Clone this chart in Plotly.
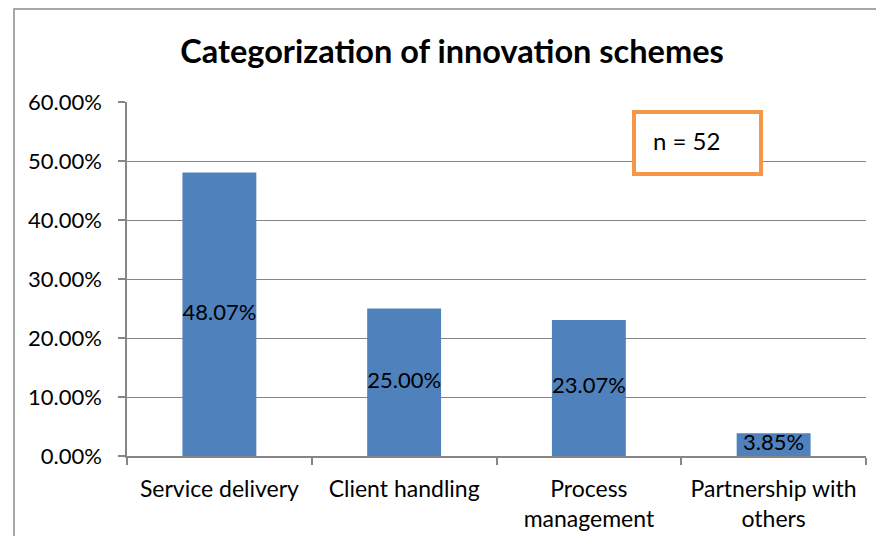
import plotly.graph_objects as go

categories = ["Service delivery", "Client handling", "Process<br>management", "Partnership with<br>others"]
values = [0.4807, 0.2500, 0.2307, 0.0385]
labels = ["48.07%", "25.00%", "23.07%", "3.85%"]
y_ticks = [0, 0.1, 0.2, 0.3, 0.4, 0.5, 0.6]

FONT = "Lato"
GRAY = "#868686"

# page offset (body margin) is 8px; figure coordinates = page coordinates - 8
W, H = 868, 528
PL, PR, PT, PB = 119, 858, 94, 448  # plot area in figure px
PW, PH = PR - PL, PB - PT


def px(x):
    return (x - 8 - PL) / PW


def py(y):
    return (PB - (y - 8)) / PH


fig = go.Figure()
fig.add_trace(go.Bar(
    x=categories, y=values, marker=dict(color="#4F81BD", line=dict(width=0)),
    width=0.4, hoverinfo="skip",
))
fig.add_trace(go.Scatter(
    x=categories, y=[v / 2 for v in values], mode="text", text=labels,
    textfont=dict(family=FONT, size=22, color="#000000"), hoverinfo="skip",
    textposition="middle center", cliponaxis=False,
))

fig.update_layout(
    width=W, height=H,
    margin=dict(l=PL, r=W - PR, t=PT, b=H - PB, pad=0, autoexpand=False),
    paper_bgcolor="white", plot_bgcolor="white",
    showlegend=False,
    font=dict(family=FONT, size=22, color="#000000"),
    title=dict(text="<b>Categorization of innovation schemes</b>", x=px(452), xanchor="center",
               y=1 - 44 / H, yanchor="middle", xref="paper",
               font=dict(family=FONT, size=32.5, color="#000000")),
    xaxis=dict(showline=True, linecolor=GRAY, linewidth=1.5, ticks="outside", ticklen=7,
               tickcolor=GRAY, tickwidth=1.5, tickson="boundaries", showgrid=False,
               ticklabelstandoff=12, automargin=False,
               tickfont=dict(family=FONT, size=23), fixedrange=True),
    yaxis=dict(range=[0, 0.6], tickvals=y_ticks, tickformat=".2%", showline=True,
               linecolor=GRAY, linewidth=1.5, ticks="outside", ticklen=7, tickcolor=GRAY,
               tickwidth=1.5, showgrid=True, gridcolor=GRAY, gridwidth=1.2,
               ticklabelstandoff=12, automargin=False,
               tickfont=dict(family=FONT, size=22), zeroline=False,
               fixedrange=True),
    bargap=0.6,
)

# outer chart border (left and top edges visible; right/bottom lie outside the view)
fig.add_shape(type="rect", xref="paper", yref="paper",
              x0=px(14), x1=px(905), y0=py(560), y1=py(9),
              line=dict(color="#8C8C8C", width=1.5), fillcolor="rgba(0,0,0,0)", layer="below")

# n = 52 box
fig.add_shape(type="rect", xref="paper", yref="paper",
              x0=px(634), x1=px(761), y0=py(174), y1=py(112),
              line=dict(color="#F79646", width=4), fillcolor="white", layer="above")
fig.add_annotation(xref="paper", yref="paper", x=px(651), y=py(140),
                   text="n = 52", showarrow=False, xanchor="left", yanchor="middle",
                   font=dict(family=FONT, size=24, color="#000000"))

fig.write_html("out.html")
